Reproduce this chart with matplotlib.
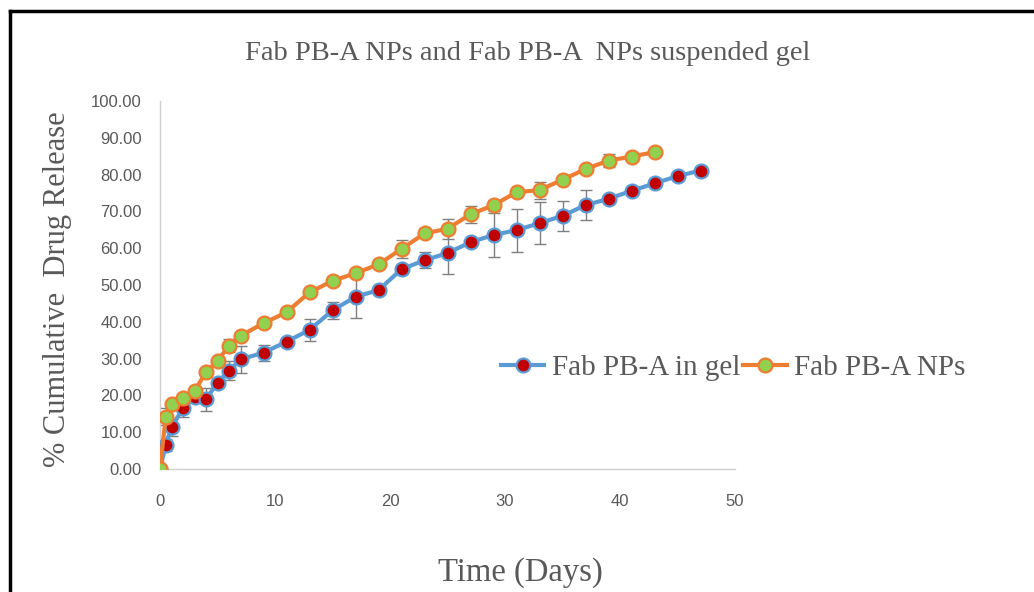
import matplotlib.pyplot as plt
from matplotlib.lines import Line2D

# Time points (days)
days_gel = [0, 0.5, 1, 2, 3, 4, 5, 6, 7, 9, 11, 13, 15, 17, 19, 21, 23, 25, 27, 29,
            31, 33, 35, 37, 39, 41, 43, 45, 47]
days_np = [0, 0.5, 1, 2, 3, 4, 5, 6, 7, 9, 11, 13, 15, 17, 19, 21, 23, 25, 27, 29,
           31, 33, 35, 37, 39, 41, 43]

# % cumulative drug release
release_gel = [0, 6.5, 11.4, 16.5, 19.6, 18.9, 23.5, 26.7, 29.8, 31.6, 34.6, 37.8, 43.1,
               46.8, 48.6, 54.3, 56.7, 58.7, 61.6, 63.6, 64.9, 66.8, 68.8, 71.7, 73.4,
               75.6, 77.6, 79.6, 81.1]
err_gel = [0, 1.6, 2.3, 2.3, 1.5, 3.1, 1.0, 2.6, 3.6, 2.2, 1.0, 2.9, 2.3, 5.8, 1.0, 1.0,
           2.2, 5.8, 1.0, 5.9, 5.8, 5.7, 4.0, 4.0, 1.0, 1.0, 1.0, 1.0, 1.0]

release_np = [0, 14.2, 17.6, 19.2, 21.2, 26.3, 29.4, 33.5, 36.2, 39.6, 42.6, 48.0, 51.1,
              53.2, 55.6, 59.8, 64.0, 65.3, 69.2, 71.7, 75.2, 75.8, 78.6, 81.5, 83.8,
              84.9, 86.1]
err_np = [0, 2.3, 1.0, 1.0, 1.0, 1.0, 1.0, 1.8, 1.0, 1.0, 1.0, 1.0, 1.0, 1.0, 1.0, 2.4,
          1.0, 2.7, 2.4, 1.5, 1.0, 2.3, 1.0, 1.0, 1.8, 1.0, 1.0]

legend_labels = ["Fab PB-A in gel", "Fab PB-A NPs"]

serif = ["Liberation Serif", "DejaVu Serif"]
sans = ["Liberation Sans", "DejaVu Sans"]
grey_text = "#595959"

fig = plt.figure(figsize=(10.34, 5.92), dpi=100)
ax = fig.add_axes([160 / 1034, 1 - 469 / 592, 575 / 1034, 368 / 592])

# error bars sit under the markers, as in the original
ax.errorbar(days_gel, release_gel, yerr=err_gel, fmt="none", ecolor="#7f7f7f",
            elinewidth=1, capsize=4, capthick=1, zorder=2)
ax.errorbar(days_np, release_np, yerr=err_np, fmt="none", ecolor="#7f7f7f",
            elinewidth=1, capsize=4, capthick=1, zorder=2)
ax.plot(days_gel, release_gel, color="#5B9BD5", lw=3, marker="o", ms=10,
        markerfacecolor="#C00000", markeredgecolor="#5B9BD5", markeredgewidth=1.6,
        zorder=3)
ax.plot(days_np, release_np, color="#ED7D31", lw=3, marker="o", ms=10,
        markerfacecolor="#92D050", markeredgecolor="#ED7D31", markeredgewidth=1.6,
        zorder=4)

ax.set_xlim(0, 50)
ax.set_ylim(0, 100)
ax.set_xticks(range(0, 51, 10))
ax.set_yticks(range(0, 101, 10))
ax.set_yticklabels([f"{v:.2f}" for v in range(0, 101, 10)])
ax.tick_params(length=0, labelsize=12, labelcolor=grey_text)
ax.tick_params(axis="y", pad=13)
ax.tick_params(axis="x", pad=18)
for lab in ax.get_xticklabels() + ax.get_yticklabels():
    lab.set_family(sans)
for s in ["top", "right"]:
    ax.spines[s].set_visible(False)
for s in ["left", "bottom"]:
    ax.spines[s].set_color("#d0d0d0")
    ax.spines[s].set_linewidth(1)
ax.patch.set_alpha(0)

fig.text(528 / 1034, 1 - 53 / 592, "Fab PB-A NPs and Fab PB-A  NPs suspended gel",
         ha="center", va="center", fontsize=20.5, color=grey_text, family=serif)
fig.text(520 / 1034, 1 - 573 / 592, "Time (Days)", ha="center", va="center",
         fontsize=23.5, color=grey_text, family=serif)
fig.text(58 / 1034, 1 - 289 / 592, "% Cumulative  Drug Release", ha="center",
         va="center", rotation=90, fontsize=22, color=grey_text, family=serif)

handles = [
    Line2D([], [], color="#5B9BD5", lw=3, marker="o", ms=10, markerfacecolor="#C00000",
           markeredgecolor="#5B9BD5", markeredgewidth=1.6),
    Line2D([], [], color="#ED7D31", lw=3, marker="o", ms=10, markerfacecolor="#92D050",
           markeredgecolor="#ED7D31", markeredgewidth=1.6),
]
fig.legend(handles, legend_labels, loc="center", bbox_to_anchor=(733 / 1034, 1 - 368 / 592),
           ncol=2, frameon=False, handlelength=1.5, handletextpad=0.25, columnspacing=0.1,
           borderaxespad=0, borderpad=0,
           prop={"family": serif, "size": 21}, labelcolor=grey_text)

# border frame (top and left visible)
fig.add_artist(Line2D([10 / 1034, 10 / 1034], [0, 1 - 11 / 592], color="black", lw=2.5,
                      transform=fig.transFigure))
fig.add_artist(Line2D([10 / 1034, 1], [1 - 11 / 592, 1 - 11 / 592], color="black", lw=2.5,
                      transform=fig.transFigure))

fig.savefig("out.png", dpi=100)
